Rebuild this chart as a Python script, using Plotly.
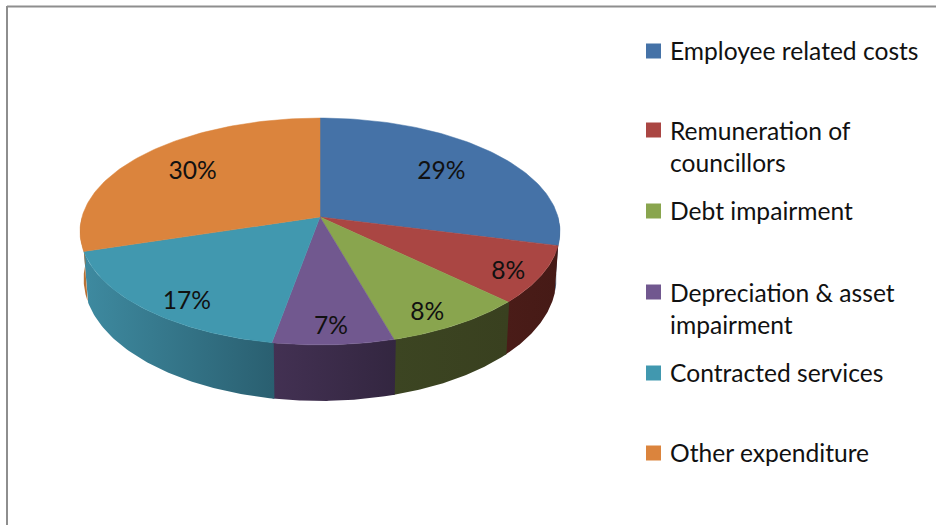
import numpy as np
import plotly.graph_objects as go

categories = ["Employee related costs", "Remuneration of councillors", "Debt impairment",
              "Depreciation & asset impairment", "Contracted services", "Other expenditure"]
shares = [29.0, 8.2, 8.4, 7.23, 17.37, 29.8]
percent_labels = ["29%", "8%", "8%", "7%", "17%", "30%"]
legend_lines = [["Employee related costs"], ["Remuneration of", "councillors"], ["Debt impairment"],
                ["Depreciation & asset", "impairment"], ["Contracted services"], ["Other expenditure"]]

top_colors = ["#4572A7", "#AA4643", "#89A54E", "#71588F", "#4198AF", "#DB843D"]
rim_left = ["#2D4A6E", "#4A1C18", "#3C4522", "#433153", "#3E8AA0", "#B87034"]
rim_right = ["#2D4A6E", "#461A16", "#39401F", "#332640", "#2A5F70", "#B87034"]
label_radius = [0.68, 0.9, 0.84, 0.84, 0.82, 0.7]
label_nudge_x = [0, -10, -6, 0, 7, 0]
label_nudge_y = [0, 4, 8, 6, 11, 0]
legend_y = [51, 130, 211, 292, 373, 453]

# tilted-disc projection, axes in page pixels
CX, CY, A, B, K = 320, 217, 238, 111.6, 0.1277
FONT = "Lato"
SIZE = 24.6

def project(theta_deg, r=1.0):
    t = np.radians(theta_deg)
    u, v = r * np.sin(t), r * np.cos(t)
    d = 1 + K * v
    return CX + A * u / d, CY - B * v / d

def lower(theta_deg):
    x, y = project(theta_deg)
    v = np.cos(np.radians(theta_deg))
    depth = 46 + 10 * np.clip(-v, 0, 1)
    return CX + (x - CX) * 0.985, y + depth

edges = np.concatenate([[0], np.cumsum(shares)]) / sum(shares) * 360
fig = go.Figure()

# side wall, only the near half of the disc (later slices overlap to hide seams)
for i in range(len(shares)):
    a, b = max(edges[i], 90), min(edges[i + 1], 270)
    if b <= a:
        continue
    th = np.linspace(a - 0.4 if a > 90 else a, b, 60)
    x1, y1 = project(th)
    x2, y2 = lower(th[::-1])
    fig.add_trace(go.Scatter(
        x=np.r_[x1, x2], y=np.r_[y1, y2], mode="lines", fill="toself",
        line=dict(width=0), hoverinfo="skip", showlegend=False,
        fillgradient=dict(type="horizontal",
                          colorscale=[[0, rim_left[i]], [1, rim_right[i]]]),
    ))

# top face
for i in range(len(shares)):
    th = np.linspace(edges[i], edges[i + 1], 90)
    x, y = project(th)
    fig.add_trace(go.Scatter(
        x=np.r_[CX, x, CX], y=np.r_[CY, y, CY], mode="lines", fill="toself",
        fillcolor=top_colors[i], line=dict(width=0.5, color=top_colors[i]),
        name=categories[i], hoverinfo="skip", showlegend=False,
    ))

# percent labels
mids = (edges[:-1] + edges[1:]) / 2
lx, ly = project(mids, np.array(label_radius))
fig.add_trace(go.Scatter(
    x=lx + np.array(label_nudge_x), y=ly + np.array(label_nudge_y),
    mode="text", text=percent_labels,
    textfont=dict(family=FONT, size=SIZE, color="#111111"),
    textposition="middle center", hoverinfo="skip", showlegend=False,
))

# legend keys and text
fig.add_trace(go.Scatter(
    x=[653.5] * len(legend_y), y=legend_y, mode="markers",
    marker=dict(symbol="square", size=15, color=top_colors, line=dict(width=0)),
    hoverinfo="skip", showlegend=False,
))
for lines, y0 in zip(legend_lines, legend_y):
    for j, line in enumerate(lines):
        fig.add_annotation(x=669, y=y0 - 1 + 32 * j + (1 if len(lines) > 1 else 0),
                           text=line, showarrow=False,
                           xanchor="left", yanchor="middle", xshift=-1,
                           font=dict(family=FONT, size=SIZE, color="#111111"))

fig.update_layout(
    width=936, height=525, margin=dict(l=0, r=0, t=0, b=0),
    paper_bgcolor="white", plot_bgcolor="white", showlegend=False,
    xaxis=dict(range=[0, 936], visible=False, fixedrange=True),
    yaxis=dict(range=[525, 0], visible=False, fixedrange=True),
    shapes=[
        dict(type="line", x0=7, x1=936, y0=6.5, y1=6.5, line=dict(color="#8E8E8E", width=2)),
        dict(type="line", x0=7, x1=7, y0=6, y1=525, line=dict(color="#8E8E8E", width=2)),
    ],
)
fig.write_html("out.html", config=dict(displayModeBar=False),
               post_script="document.body.style.margin='0';document.body.style.overflow='hidden';")
